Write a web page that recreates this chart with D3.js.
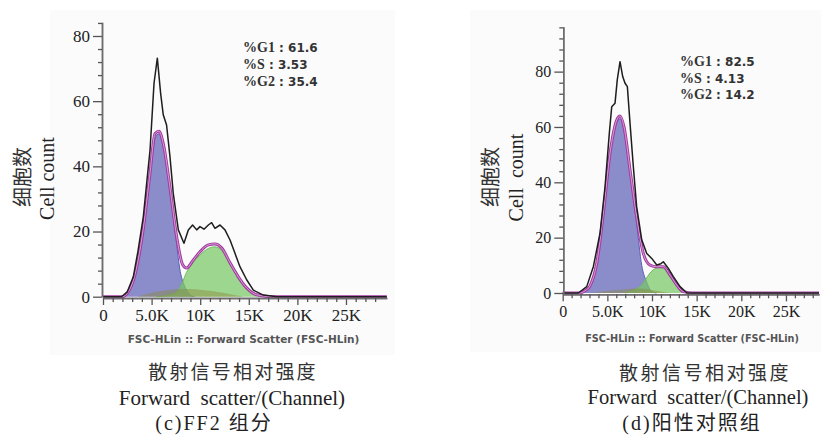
<!DOCTYPE html>
<html><head><meta charset="utf-8">
<script src="https://cdn.jsdelivr.net/npm/d3@7"></script>
<style>body{margin:0;background:#fff;} svg{display:block}</style>
</head><body><svg id="chart" width="821" height="436"></svg>
<script>
// ---------- shared tick data ----------
const xMajorTicks = [0, 5, 10, 15, 20, 25];
const xMajorLabels = ["0", "5.0K", "10K", "15K", "20K", "25K"];
const xMinorTicks = [1,2,3,4,6,7,8,9,11,12,13,14,16,17,18,19,21,22,23,24,26,27,28];
const yMajorTicks = [0, 20, 40, 60, 80];
const yMinorTicksC = [4,8,12,16,24,28,32,36,44,48,52,56,64,68,72,76,84];
const yMinorTicksD = [4,8,12,16,24,28,32,36,44,48,52,56,64,68,72,76,84,88,92,96];

// ---------- panel (c) FF2 ----------
const histC_x = [0, 1.9, 2.5, 3.12, 3.6, 4.15, 4.5, 4.84, 5.25, 5.59, 5.93, 6.2, 6.54, 6.89, 7.23, 7.75, 8.33, 8.78, 9.22, 9.64, 9.98, 10.39, 10.84, 11.18, 11.52, 12.04, 12.55, 13.07, 13.58, 14.09, 14.78, 15.47, 16.5, 17.9, 29.2];
const histC_y = [0, 0, 1.5, 6.1, 14, 24.6, 35, 45, 65.5, 73.2, 62.4, 55.8, 52.7, 43, 31.7, 20.5, 16.4, 20.5, 22, 20.5, 21.5, 20.7, 22, 22.7, 21, 22, 20.5, 17.4, 13.3, 9.2, 5.2, 2, 0.5, 0, 0];
const fitC_x = [0, 2.0, 2.6, 3.12, 3.6, 4.15, 4.84, 5.35, 5.76, 6.2, 6.89, 7.58, 8.2, 8.6, 9.3, 9.98, 10.84, 11.52, 12.2, 13.07, 13.92, 14.78, 15.8, 17.5, 29.2];
const fitC_y = [0, 0, 1.5, 5, 11, 21, 38, 50, 50.8, 47, 33.6, 18.4, 9.8, 8.8, 11.3, 13.8, 15.9, 16.2, 15, 10.4, 6.1, 2.7, 0.6, 0, 0];
const g1C_x = [2.0, 2.6, 3.12, 3.6, 4.15, 4.84, 5.35, 5.76, 6.2, 6.89, 7.58, 7.9, 8.3, 8.6, 9.0, 9.4];
const g1C_y = [0, 1.4, 4.5, 10.5, 20, 37, 48.5, 50, 46, 32, 16, 8.5, 4, 2, 0.5, 0];
const g2C_x = [5.5, 6.5, 7.5, 8.14, 8.6, 9.3, 9.98, 10.84, 11.52, 12.2, 13.07, 13.92, 14.78, 15.8, 16.8];
const g2C_y = [0, 0.3, 1.2, 4.2, 7.5, 10.5, 12.8, 14.8, 15.3, 14.2, 9.8, 5.6, 2.4, 0.5, 0];
const sC_x = [3.5, 4.5, 5.5, 6.5, 7.5, 8.5, 9.5, 10.5, 11.5, 12.5, 13.5, 14.5];
const sC_y = [0, 0.8, 1.5, 2, 2.3, 2.4, 2.3, 2.0, 1.6, 1.1, 0.5, 0];
const statsC = [["%G1", "61.6"], ["%S", "3.53"], ["%G2", "35.4"]];

// ---------- panel (d) positive control ----------
const histD_x = [0, 1.75, 2.69, 3.43, 4.18, 4.74, 5.22, 5.49, 5.86, 6.11, 6.42, 6.72, 6.98, 7.24, 7.54, 7.91, 8.28, 8.85, 9.41, 9.97, 10.53, 11.0, 11.27, 11.83, 12.39, 13.14, 13.89, 14.6, 28.7];
const histD_y = [0, 0, 2.3, 9.5, 21.6, 38.4, 57.7, 67.3, 68.6, 77, 83.6, 78.2, 75.8, 74.6, 61.3, 45.6, 31.2, 19.2, 14.3, 12.5, 10.1, 10.6, 11.3, 8.9, 5.9, 2.3, 0.1, 0, 0];
const fitD_x = [0, 1.9, 2.5, 3.06, 3.81, 4.55, 5.3, 6.05, 6.42, 6.86, 7.54, 8.28, 9.03, 9.78, 10.53, 11.27, 12.02, 12.77, 13.5, 14.6, 28.7];
const fitD_y = [0, 0, 0.8, 2.6, 10.7, 28.8, 50.5, 62.5, 64, 60.1, 44.5, 27.6, 14.3, 10.1, 9.5, 9.5, 6.5, 2.9, 0.5, 0, 0];
const g1D_x = [1.9, 2.5, 3.06, 3.81, 4.55, 5.3, 6.05, 6.42, 6.86, 7.54, 8.28, 8.85, 9.4, 9.97, 10.5];
const g1D_y = [0, 0.7, 2.4, 10.3, 28, 49.5, 61.5, 63, 59, 43.5, 25, 10, 4, 0.5, 0];
const g2D_x = [7.0, 7.5, 8.3, 9.0, 9.5, 10.0, 10.5, 10.9, 11.3, 11.8, 12.4, 13.0, 13.6, 14.2];
const g2D_y = [0, 0.5, 1.5, 3.5, 6, 8, 9, 9.2, 8.8, 7, 4, 1.8, 0.4, 0];
const sD_x = [3.0, 4.0, 5.0, 6.0, 7.0, 8.0, 9.0, 10.0, 11.0, 12.0];
const sD_y = [0, 0.4, 0.8, 1.1, 1.4, 1.6, 1.5, 1.1, 0.5, 0];
const statsD = [["%G1", "82.5"], ["%S", "4.13"], ["%G2", "14.2"]];

// pick an installed serif face
function pickFont(cands) {
  const c = document.createElement("canvas").getContext("2d");
  const test = "Forward scatter 5.0K Wwmil";
  const fallbacks = ["monospace", "sans-serif"];
  for (const f of cands) {
    let differs = true;
    for (const fb of fallbacks) {
      c.font = "40px " + fb; const wb = c.measureText(test).width;
      c.font = `40px "${f}", ${fb}`; const wf = c.measureText(test).width;
      if (Math.abs(wf - wb) < 0.01) { differs = false; break; }
    }
    if (differs) return `"${f}"`;
  }
  return "serif";
}
const SERIF = pickFont(["Liberation Serif", "Tinos", "Times New Roman", "DejaVu Serif", "Noto Serif", "FreeSerif"]);

const svg = d3.select("#chart");

const panels = [
  { hist: [histC_x, histC_y], fit: [fitC_x, fitC_y], g1: [g1C_x, g1C_y], g2: [g2C_x, g2C_y], s: [sC_x, sC_y],
    stats: statsC, yMinor: yMinorTicksC,
    xMax: 29.2, yMax: 84.2, xr: [103, 386.8], yr: [296.7, 22.3], axisX: 102,
    fs: 17, statX: 243, statY: 52, statDy: 17,
    bg: [50, 10, 345, 345],
    yt1: [30, 177], yt2: [54, 178.5], ytext2: "Cell count",
    fsc: [243.5, 343, 10.5],
    cap1: [233, 379, 19, 2.2], cap2: [232, 405, 21], cap3: [214, 430, "(c)FF2 组分"] },
  { hist: [histD_x, histD_y], fit: [fitD_x, fitD_y], g1: [g1D_x, g1D_y], g2: [g2D_x, g2D_y], s: [sD_x, sD_y],
    stats: statsD, yMinor: yMinorTicksD,
    xMax: 28.7, yMax: 96.2, xr: [562.7, 819], yr: [293, 26.8], axisX: 563.3,
    fs: 16, statX: 680, statY: 66, statDy: 16.5,
    bg: [470, 10, 351, 342],
    yt1: [498, 177], yt2: [523, 177.5], ytext2: "Cell  count",
    fsc: [692, 342, 9.7],
    cap1: [705, 380, 19, 2.5], cap2: [698, 404, 20.5], cap3: [692, 430, "(d)阳性对照组"] }
];

panels.forEach(p => {
  const g = svg.append("g");
  g.append("rect").attr("x", p.bg[0]).attr("y", p.bg[1]).attr("width", p.bg[2]).attr("height", p.bg[3]).attr("fill", "#fbfbfb");

  const x = d3.scaleLinear().domain([0, p.xMax]).range(p.xr);
  const y = d3.scaleLinear().domain([0, p.yMax]).range(p.yr);
  const areaOf = (xs, ys, curve) => d3.area().x((d, i) => x(xs[i])).y0(y(0)).y1(d => y(d)).curve(curve)(ys);
  const lineOf = (xs, ys, curve) => d3.line().x((d, i) => x(xs[i])).y(d => y(d)).curve(curve)(ys);

  // components
  g.append("path").attr("d", areaOf(p.g1[0], p.g1[1], d3.curveMonotoneX)).attr("fill", "#8b8cca");
  g.append("path").attr("d", lineOf(p.g1[0], p.g1[1], d3.curveMonotoneX)).attr("fill", "none").attr("stroke", "#5a5fb8").attr("stroke-width", 1);
  g.append("path").attr("d", areaOf(p.g2[0], p.g2[1], d3.curveMonotoneX)).attr("fill", "#78c865").attr("fill-opacity", 0.72);
  g.append("path").attr("d", lineOf(p.g2[0], p.g2[1], d3.curveMonotoneX)).attr("fill", "none").attr("stroke", "#6cbf5a").attr("stroke-width", 1);
  g.append("path").attr("d", areaOf(p.s[0], p.s[1], d3.curveMonotoneX)).attr("fill", "#8a8a3a").attr("fill-opacity", 0.45);

  // fit (magenta)
  g.append("path").attr("d", lineOf(p.fit[0], p.fit[1], d3.curveMonotoneX)).attr("fill", "none").attr("stroke", "#a23aa0").attr("stroke-width", 3);
  g.append("path").attr("d", lineOf(p.fit[0], p.fit[1], d3.curveMonotoneX)).attr("fill", "none").attr("stroke", "#e2b6e2").attr("stroke-width", 0.8);
  // histogram (black)
  g.append("path").attr("d", lineOf(p.hist[0], p.hist[1], d3.curveLinear)).attr("fill", "none").attr("stroke", "#1e1e1e").attr("stroke-width", 1.5).attr("stroke-linejoin", "round");

  // x axis
  const xAxisY = y(0) + 1.3;
  const xa = g.append("g").attr("transform", `translate(0,${xAxisY})`)
    .call(d3.axisBottom(x).tickValues(xMajorTicks).tickFormat((d, i) => xMajorLabels[i]).tickSize(7).tickSizeOuter(0).tickPadding(4));
  const xm = g.append("g").attr("transform", `translate(0,${xAxisY})`)
    .call(d3.axisBottom(x).tickValues(xMinorTicks).tickFormat("").tickSize(4).tickSizeOuter(0));
  // y axis
  const ya = g.append("g").attr("transform", `translate(${p.axisX},0)`)
    .call(d3.axisLeft(y).tickValues(yMajorTicks).tickSize(9).tickSizeOuter(0).tickPadding(3));
  const ym = g.append("g").attr("transform", `translate(${p.axisX},0)`)
    .call(d3.axisLeft(y).tickValues(p.yMinor).tickFormat("").tickSize(4).tickSizeOuter(0));
  [xa, xm, ya, ym].forEach(a => {
    a.attr("font-family", SERIF).attr("font-size", p.fs);
    a.select(".domain").attr("stroke", "#6e6e6e").attr("stroke-width", 1.5);
    a.selectAll(".tick line").attr("stroke", "#555").attr("stroke-width", 1.3);
    a.selectAll("text").style("font-family", SERIF).attr("font-size", p.fs).attr("fill", "#222");
  });
  xa.select(".domain").attr("stroke", "#5a4a62");

  // stats text
  p.stats.forEach((s, i) => {
    const t = g.append("text").attr("x", p.statX).attr("y", p.statY + i * p.statDy).attr("fill", "#333").attr("font-weight", "bold");
    t.append("tspan").style("font-family", SERIF).attr("font-size", 14).text(s[0]);
    t.append("tspan").style("font-family", "'DejaVu Sans', sans-serif").attr("font-size", 12).text(" : " + s[1]);
  });

  // y titles
  g.append("text").attr("transform", `translate(${p.yt1[0]},${p.yt1[1]}) rotate(-90)`).attr("text-anchor", "middle")
    .style("font-family", "'Noto Sans CJK SC', sans-serif").attr("font-size", 20).attr("fill", "#333").text("细胞数");
  g.append("text").attr("transform", `translate(${p.yt2[0]},${p.yt2[1]}) rotate(-90)`).attr("text-anchor", "middle")
    .style("font-family", SERIF).attr("font-size", 20).attr("fill", "#222").style("white-space", "pre").text(p.ytext2);

  // FSC label
  g.append("text").attr("x", p.fsc[0]).attr("y", p.fsc[1]).attr("text-anchor", "middle")
    .style("font-family", "'DejaVu Sans', sans-serif").attr("font-weight", "bold").attr("font-size", p.fsc[2]).attr("fill", "#555")
    .text("FSC-HLin :: Forward Scatter (FSC-HLin)");

  // captions
  g.append("text").attr("x", p.cap1[0]).attr("y", p.cap1[1]).attr("text-anchor", "middle")
    .style("font-family", "'Noto Sans CJK SC', sans-serif").attr("font-size", p.cap1[2]).attr("letter-spacing", p.cap1[3]).attr("fill", "#333").text("散射信号相对强度");
  g.append("text").attr("x", p.cap2[0]).attr("y", p.cap2[1]).attr("text-anchor", "middle")
    .style("font-family", SERIF).attr("font-size", p.cap2[2]).attr("fill", "#222").style("white-space", "pre").text("Forward  scatter/(Channel)");
  g.append("text").attr("x", p.cap3[0]).attr("y", p.cap3[1]).attr("text-anchor", "middle")
    .style("font-family", SERIF + ", 'Noto Sans CJK SC'").attr("font-size", 20).attr("letter-spacing", 2).attr("fill", "#222").text(p.cap3[2]);
});
</script></body></html>
